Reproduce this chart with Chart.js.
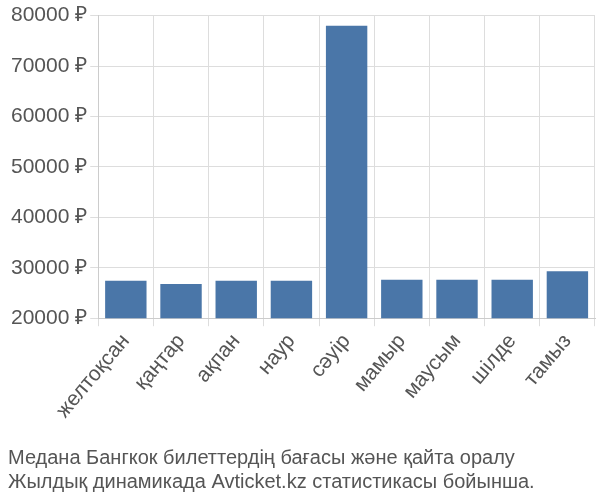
<!DOCTYPE html>
<html>
<head>
<meta charset="utf-8">
<script src="https://cdn.jsdelivr.net/npm/chart.js@4"></script>
<style>
  body { margin: 0; background: #fff; }
  #wrap { width: 600px; height: 500px; }
</style>
</head>
<body>
<div id="wrap"><canvas id="priceChart"></canvas></div>
<script>
const months = ['желтоқсан', 'қаңтар', 'ақпан', 'наур', 'сәуір', 'мамыр', 'маусым', 'шілде', 'тамыз'];
const prices = [27400, 26800, 27400, 27400, 78000, 27600, 27600, 27600, 29300];
const titleLines = ['Медана Бангкок билеттердің бағасы және қайта оралу', 'Жылдық динамикада Avticket.kz статистикасы бойынша.'];

Chart.defaults.font.family = '"Liberation Sans", Arial, sans-serif';
Chart.defaults.color = '#555';

new Chart(document.getElementById('priceChart'), {
    type: 'bar',
    data: {
        labels: months,
        datasets: [{
            data: prices,
            backgroundColor: '#4a76a8',
            categoryPercentage: 0.75,
            barPercentage: 1
        }]
    },
    options: {
        responsive: true,
        maintainAspectRatio: false,
        animation: false,
        layout: { padding: { right: 5, top: 6, left: 8 } },
        plugins: {
            legend: { display: false },
            tooltip: { enabled: false },
            title: {
                display: true,
                position: 'bottom',
                align: 'start',
                text: titleLines,
                color: '#555',
                font: { size: 20, weight: 'normal' },
                padding: { top: 20, bottom: 6 }
            }
        },
        scales: {
            y: {
                min: 20000,
                max: 80000,
                ticks: {
                    stepSize: 10000,
                    font: { size: 21 },
                    callback: v => v + ' ₽'
                },
                grid: { color: '#ddd', tickLength: 8 },
                border: { color: '#ccc' }
            },
            x: {
                ticks: {
                    font: { size: 21 },
                    maxRotation: 50,
                    minRotation: 50
                },
                grid: { color: '#ddd', offset: true, tickLength: 8 },
                border: { color: '#ccc' }
            }
        }
    }
});
</script>
</body>
</html>
